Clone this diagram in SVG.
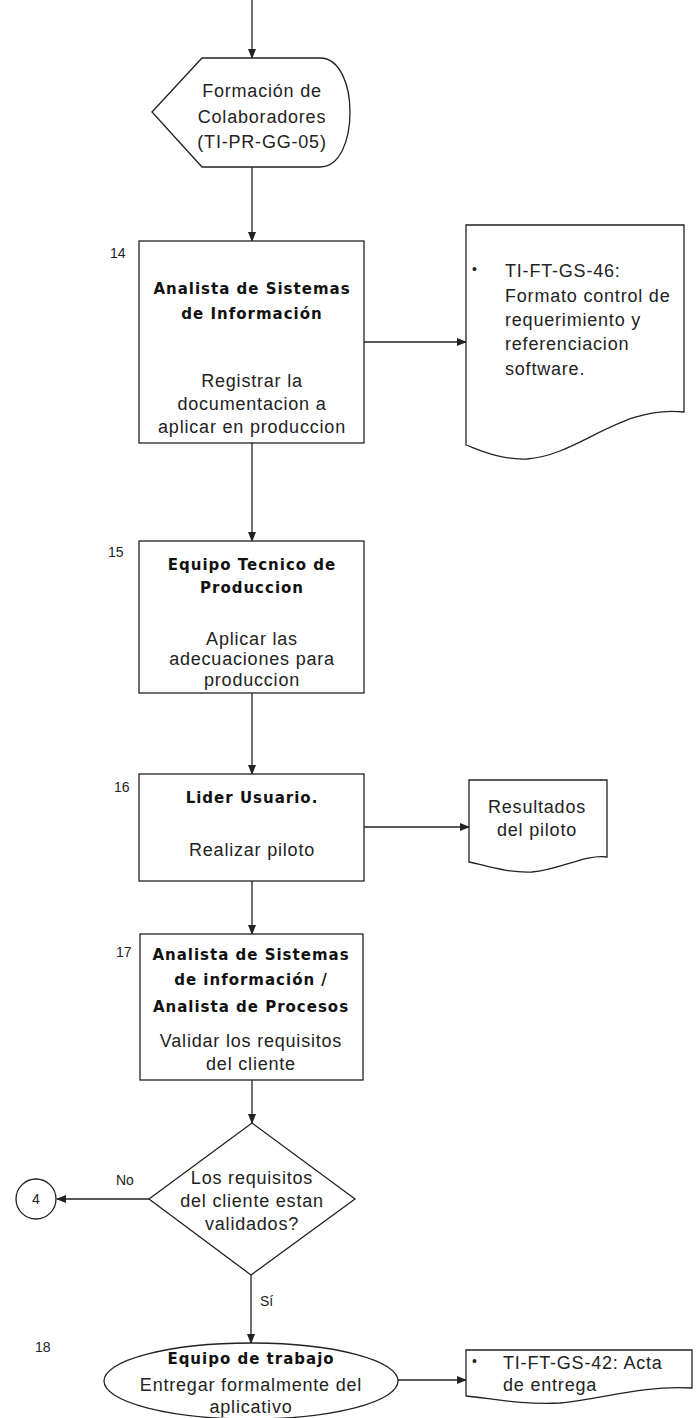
<svg xmlns="http://www.w3.org/2000/svg" width="698" height="1418" viewBox="0 0 698 1418">
<style>
.shape{fill:#fff;stroke:#222;stroke-width:1.3}
.conn line{stroke:#222;stroke-width:1.3}
.t{font-family:"Liberation Sans",Arial,sans-serif;font-size:18px;letter-spacing:0.8px;fill:#222}
.b{font-family:"DejaVu Sans",Verdana,sans-serif;font-size:15px;font-weight:bold;letter-spacing:1px;fill:#111}
.n{font-family:"Liberation Sans",Arial,sans-serif;font-size:14px;fill:#222}
.c{text-anchor:middle}
</style>
<defs>
<marker id="ah" markerWidth="10" markerHeight="8" refX="9" refY="4" orient="auto" markerUnits="userSpaceOnUse">
<path d="M0,0 L10,4 L0,8 Z" fill="#222"/>
</marker>
</defs>
<rect width="698" height="1418" fill="#fff"/>
<g id="connectors" class="conn">
<line x1="252" y1="0" x2="252" y2="58" marker-end="url(#ah)"/>
<line x1="252" y1="167" x2="252" y2="241" marker-end="url(#ah)"/>
<line x1="364" y1="342" x2="466" y2="342" marker-end="url(#ah)"/>
<line x1="252" y1="443" x2="252" y2="541" marker-end="url(#ah)"/>
<line x1="252" y1="693" x2="252" y2="774" marker-end="url(#ah)"/>
<line x1="364" y1="827" x2="469" y2="827" marker-end="url(#ah)"/>
<line x1="252" y1="881" x2="252" y2="934" marker-end="url(#ah)"/>
<line x1="252" y1="1080" x2="252" y2="1123" marker-end="url(#ah)"/>
<line x1="149" y1="1199" x2="57" y2="1199" marker-end="url(#ah)"/>
<line x1="251" y1="1275" x2="251" y2="1343" marker-end="url(#ah)"/>
<line x1="398" y1="1380" x2="466" y2="1380" marker-end="url(#ah)"/>
<text class="n" x="116" y="1185">No</text>
<text class="n" x="260" y="1306">Sí</text>
</g>
<g id="formacion">
<path class="shape" d="M152,112 L202,58 L320,58 C340,58 350,85 350,112 C350,140 340,167 320,167 L202,167 Z"/>
<text class="t c" x="262" y="97">Formación de</text>
<text class="t c" x="262" y="123">Colaboradores</text>
<text class="t c" x="262" y="148">(TI-PR-GG-05)</text>
</g>
<g id="step14">
<rect class="shape" x="139" y="241" width="225" height="202"/>
<text class="n" x="110" y="258">14</text>
<text class="b c" x="252" y="294">Analista de Sistemas</text>
<text class="b c" x="252" y="319">de Información</text>
<text class="t c" x="252" y="387">Registrar la</text>
<text class="t c" x="252" y="410">documentacion a</text>
<text class="t c" x="252" y="433">aplicar en produccion</text>
</g>
<g id="doc46">
<path class="shape" d="M466,225 H684 V412 C620,405 580,455 527,459 C500,460 480,450 466,445 Z"/>
<text class="n" x="472" y="274">•</text>
<text class="t" x="505" y="277">TI-FT-GS-46:</text>
<text class="t" x="505" y="302">Formato control de</text>
<text class="t" x="505" y="326">requerimiento y</text>
<text class="t" x="505" y="350">referenciacion</text>
<text class="t" x="505" y="375">software.</text>
</g>
<g id="step15">
<rect class="shape" x="139" y="541" width="225" height="152"/>
<text class="n" x="108" y="557">15</text>
<text class="b c" x="252" y="570">Equipo Tecnico de</text>
<text class="b c" x="252" y="593">Produccion</text>
<text class="t c" x="252" y="645">Aplicar las</text>
<text class="t c" x="252" y="665">adecuaciones para</text>
<text class="t c" x="252" y="686">produccion</text>
</g>
<g id="step16">
<rect class="shape" x="139" y="774" width="225" height="107"/>
<text class="n" x="114" y="792">16</text>
<text class="b c" x="252" y="803">Lider Usuario.</text>
<text class="t c" x="252" y="856">Realizar piloto</text>
</g>
<g id="docPiloto">
<path class="shape" d="M469,780 H607 V857 C585,854 560,870 532,872 C505,873 485,865 469,862 Z"/>
<text class="t c" x="537" y="813">Resultados</text>
<text class="t c" x="537" y="836">del piloto</text>
</g>
<g id="step17">
<rect class="shape" x="140" y="934" width="223" height="146"/>
<text class="n" x="116" y="957">17</text>
<text class="b c" x="251" y="960">Analista de Sistemas</text>
<text class="b c" x="251" y="985">de información /</text>
<text class="b c" x="251" y="1012">Analista de Procesos</text>
<text class="t c" x="251" y="1047">Validar los requisitos</text>
<text class="t c" x="251" y="1070">del cliente</text>
</g>
<g id="decision">
<path class="shape" d="M252,1123 L355,1199 L251,1275 L149,1199 Z"/>
<text class="t c" x="252" y="1184">Los requisitos</text>
<text class="t c" x="252" y="1207">del cliente estan</text>
<text class="t c" x="252" y="1230">validados?</text>
</g>
<g id="connector4">
<circle class="shape" cx="36" cy="1199" r="20"/>
<text class="n c" x="36" y="1204">4</text>
</g>
<g id="step18">
<ellipse class="shape" cx="251" cy="1381" rx="147" ry="38"/>
<text class="n" x="35" y="1352">18</text>
<text class="b c" x="251" y="1364">Equipo de trabajo</text>
<text class="t c" x="251" y="1391">Entregar formalmente del</text>
<text class="t c" x="251" y="1413">aplicativo</text>
</g>
<g id="doc42">
<path class="shape" d="M466,1350 H692 V1388 C640,1385 600,1400 560,1403 C520,1405 490,1398 466,1396 Z"/>
<text class="n" x="472" y="1366">•</text>
<text class="t" x="503" y="1369">TI-FT-GS-42: Acta</text>
<text class="t" x="503" y="1391">de entrega</text>
</g>
</svg>
